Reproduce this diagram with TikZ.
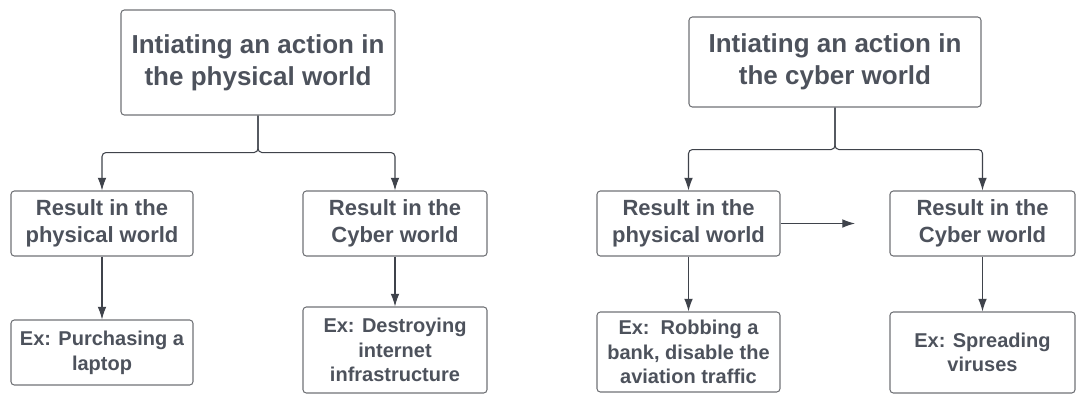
\documentclass[tikz,border=0pt]{standalone}
\usepackage{fontspec}
\setmainfont{Liberation Sans}
\usetikzlibrary{arrows.meta}

\definecolor{boxline}{HTML}{707276}
\definecolor{boxtext}{HTML}{4D525C}
\definecolor{flowline}{HTML}{3F434B}

\begin{document}
\begin{tikzpicture}[x=0.75pt,y=-0.75pt,
  box/.style={draw=boxline,line width=0.8pt,rounded corners=2.5pt,align=center,text=boxtext,inner sep=0pt},
  headbox/.style={box,font=\fontsize{19.5}{24}\selectfont\bfseries},
  resbox/.style={box,font=\fontsize{16.5}{20}\selectfont\bfseries,minimum height=48.75pt},
  exbox/.style={box,font=\fontsize{15}{18.5}\selectfont\bfseries},
  flow/.style={draw=flowline,line width=0.8pt,rounded corners=3pt,-{Latex[length=9.5pt,width=6.5pt]}}]
  \useasboundingbox (0,0) rectangle (1084,394);

  \node [headbox,minimum width=205.5pt,minimum height=78.75pt] (pstart) at (258,62.5) {Intiating an action in\\the physical world};
  \node [resbox,minimum width=136.5pt] (ppres) at (102,223.5) {Result in the\\physical world};
  \node [resbox,minimum width=138pt] (pcres) at (395,223.5) {Result in the\\Cyber world};
  \node [exbox,minimum width=136.5pt,minimum height=48.75pt] (ppex) at (102,352.5) {Ex: Purchasing a\\laptop};
  \node [exbox,minimum width=138pt,minimum height=64.5pt] (pcex) at (395,350) {Ex: Destroying\\internet\\infrastructure};

  \node [headbox,minimum width=219pt,minimum height=67.5pt] (cstart) at (835,62) {Intiating an action in\\the cyber world};
  \node [resbox,minimum width=137.25pt] (cpres) at (688.5,223.5) {Result in the\\physical world};
  \node [resbox,minimum width=138.75pt] (ccres) at (982.5,223.5) {Result in the\\Cyber world};
  \node [exbox,minimum width=137.25pt,minimum height=60pt] (cpex) at (688.5,352) {Ex:\ \ Robbing a\\bank, disable the\\aviation traffic};
  \node [exbox,minimum width=138.75pt,minimum height=60.75pt] (ccex) at (982.5,352.5) {Ex: Spreading\\viruses};
  \coordinate (cgap) at (855,223.5);

  \draw [flow] (pstart.south) -- ++(0,37) -| (ppres.north);
  \draw [flow] (pstart.south) -- ++(0,37) -| (pcres.north);
  \draw [flow] (ppres.south) -- (ppex.north);
  \draw [flow] (pcres.south) -- (pcex.north);

  \draw [flow] (cstart.south) -- ++(0,42) -| (cpres.north);
  \draw [flow] (cstart.south) -- ++(0,42) -| (ccres.north);
  \draw [flow] (cpres.east) -- (cgap);
  \draw [flow] (cpres.south) -- (cpex.north);
  \draw [flow] (ccres.south) -- (ccex.north);

\end{tikzpicture}
\end{document}
